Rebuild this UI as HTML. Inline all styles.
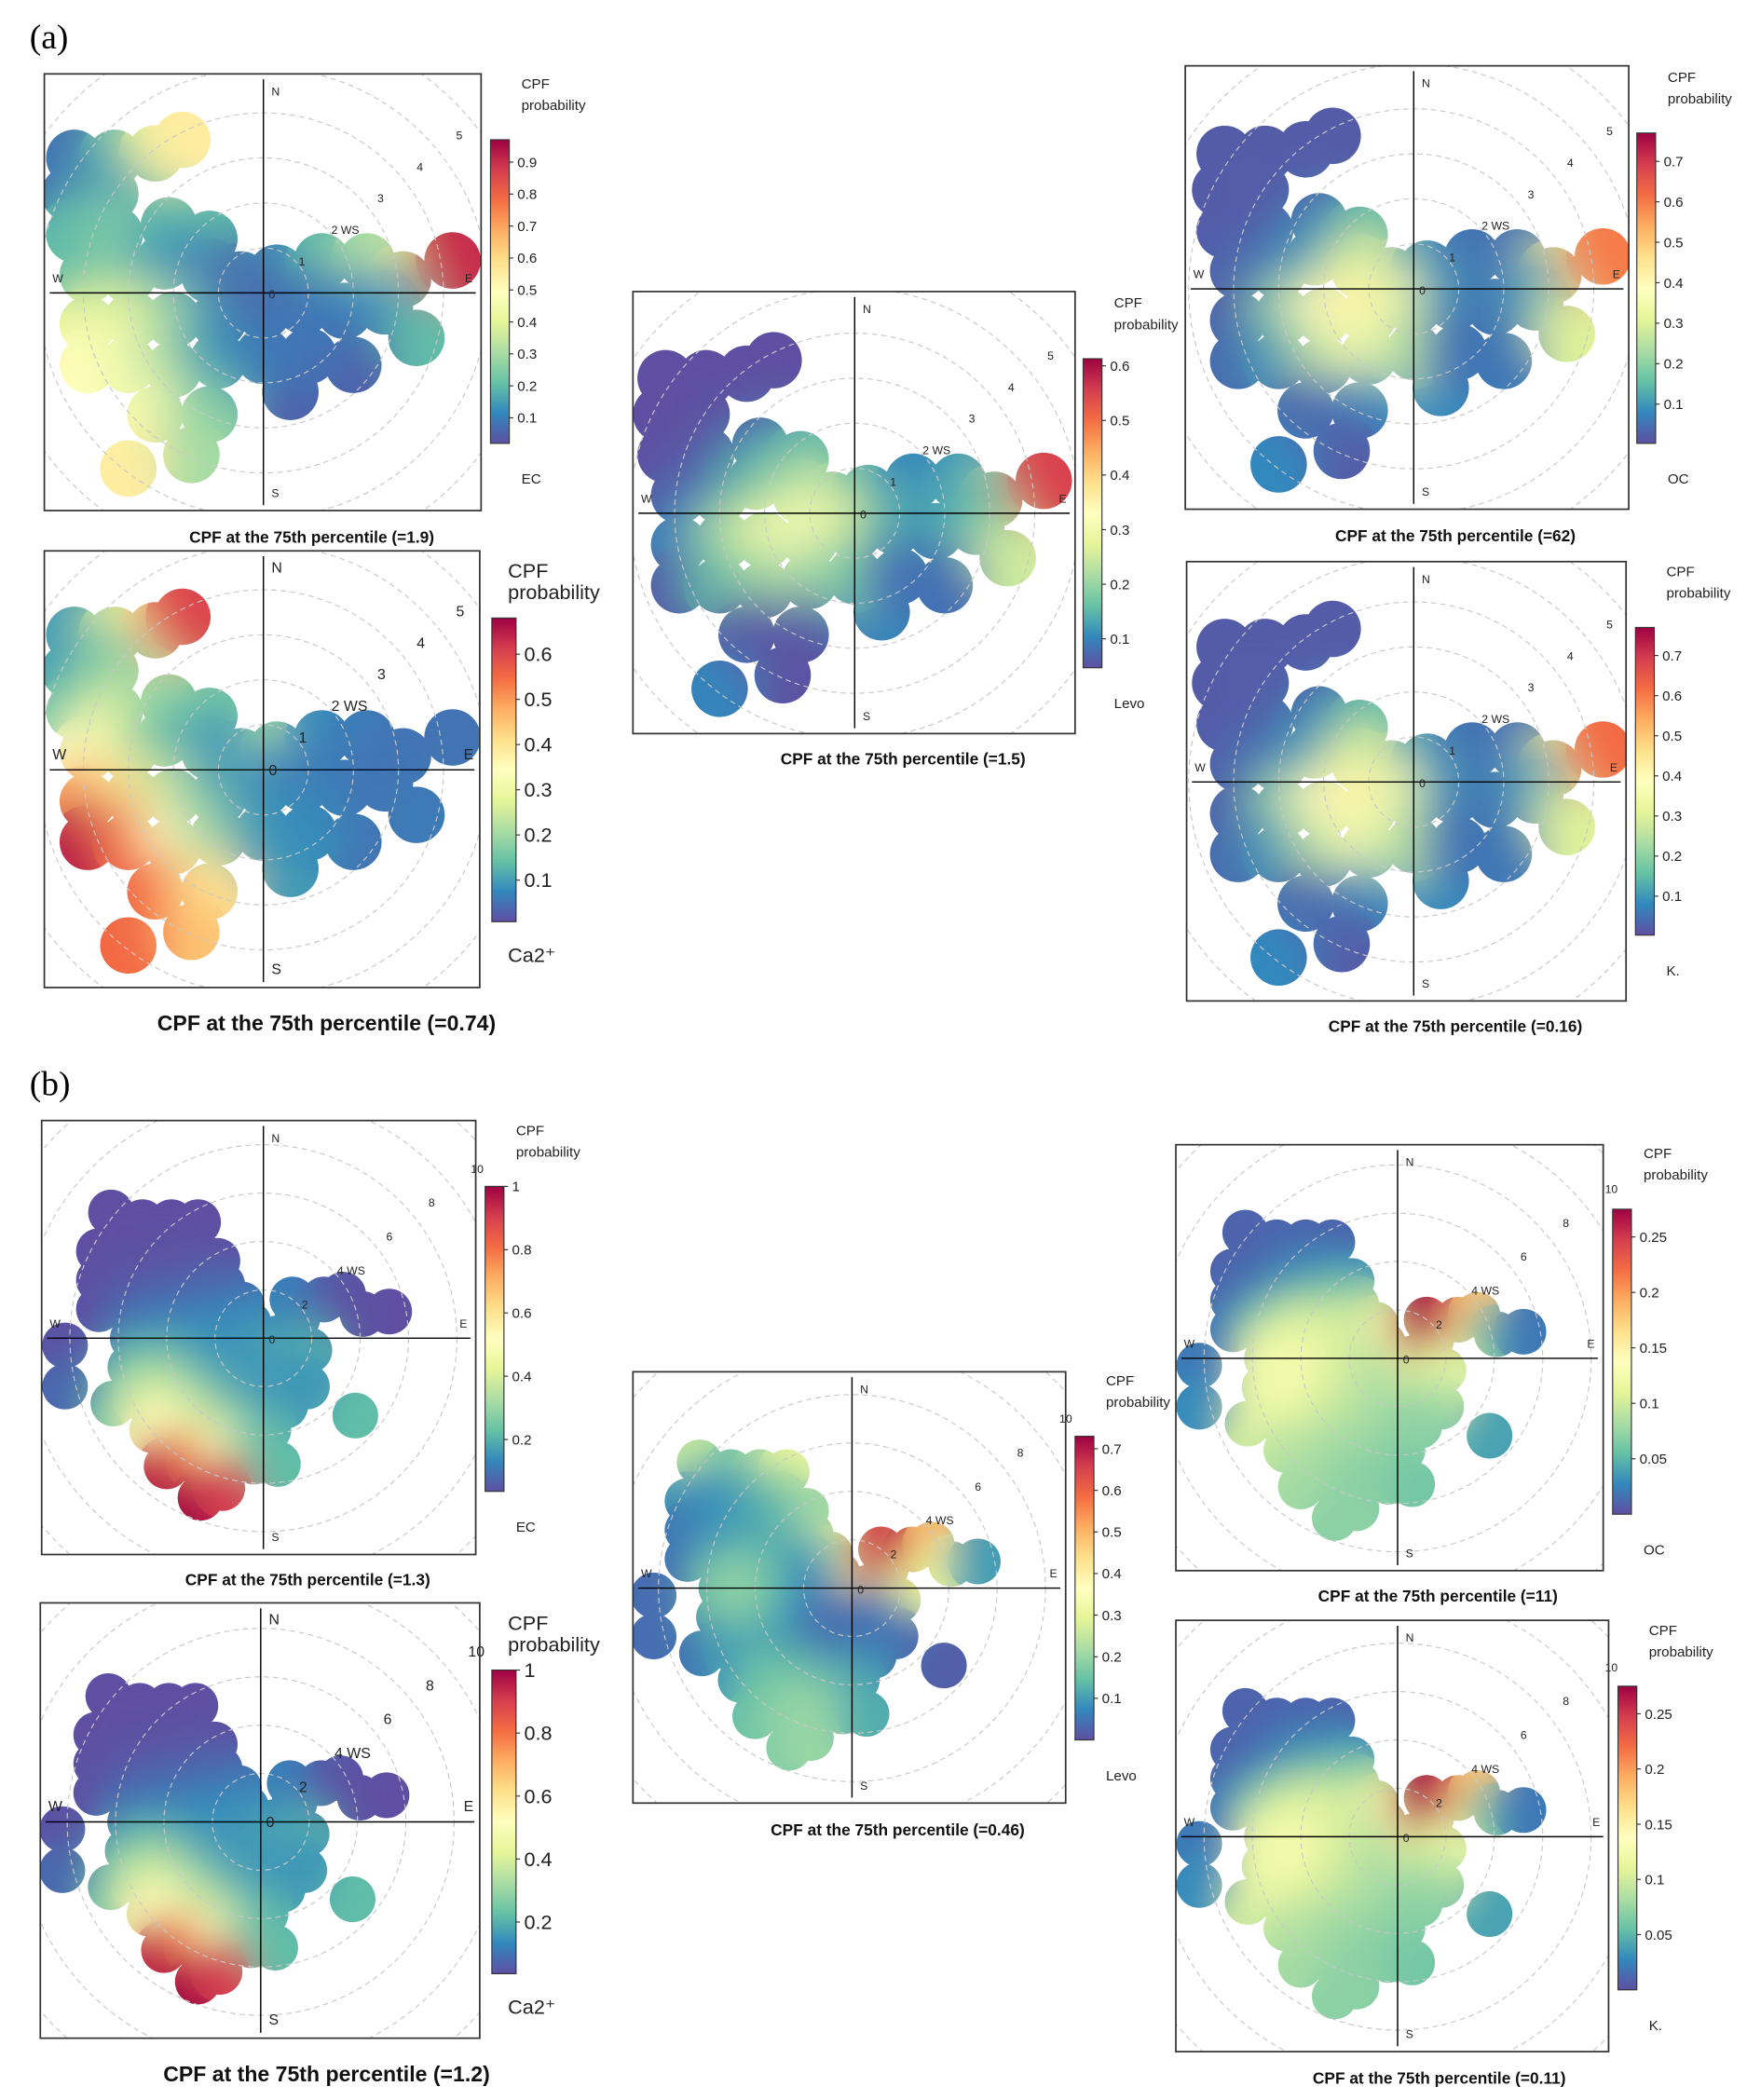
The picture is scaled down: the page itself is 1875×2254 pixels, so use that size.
<!DOCTYPE html>
<html><head><meta charset="utf-8"><style>
html,body{margin:0;padding:0;background:#fff}
svg{display:block}
text{font-family:"Liberation Sans",Arial,sans-serif}
</style></head><body>
<svg id="fig" xmlns="http://www.w3.org/2000/svg" width="1875" height="2254" viewBox="0 0 1300 1563" preserveAspectRatio="none">
<rect width="1300" height="1563" fill="#fff"/>
<text x="22" y="36" font-size="26" style="font-family:'Liberation Serif',serif">(a)</text>
<text x="22" y="815" font-size="26" style="font-family:'Liberation Serif',serif">(b)</text>
<defs id="defs"></defs>
</svg>
<script>
// ---------- data: group A (wind components u east / v north, ws units) ----------
const ptsAu = [-4.2,-3.3,-2.4,-1.8,-4.3,-3.4,-4.2,-3.3,-3.9,-3.0, -2.1,-1.2,-2.2,-1.2,-0.5,0.3,1.3,2.3,3.1,4.2, -3.9,-2.9,-2.0,-1.0,0,0.9,1.8,2.7,3.4,2.0,0.6, -3.9,-3.0,-2.0,-1.0,0,1.0, -2.4,-1.2,-1.6,-3.0];
const ptsAv = [3.0,3.0,3.1,3.4,2.2,2.2,1.3,1.3,0.4,0.4, 1.5,1.2,0.7,0.4,0.3,0.45,0.7,0.7,0.3,0.72, -0.7,-0.6,-0.6,-0.6,-0.4,-0.3,-0.4,-0.3,-1.0,-1.6,-2.2, -1.6,-1.6,-1.7,-1.5,-1.4,-1.4, -2.7,-2.7,-3.6,-3.9];
const valsEC_a   = [.08,.2,.4,.55,.08,.15,.2,.25,.2,.25, .2,.2,.15,.1,.05,.1,.2,.3,.4,.9, .4,.4,.3,.15,.05,.08,.1,.12,.2,.05,.05, .5,.45,.3,.15,.1,.08, .45,.25,.3,.55];
const valsCa_a   = [.1,.25,.4,.6,.1,.15,.15,.25,.35,.3, .2,.15,.15,.1,.08,.2,.08,.06,.05,.05, .5,.4,.25,.12,.08,.06,.06,.05,.06,.05,.1, .65,.55,.35,.2,.1,.08, .55,.4,.45,.55];
const valsLevo_a = [.04,.04,.04,.04,.04,.04,.04,.05,.06,.08, .08,.15,.15,.22,.25,.15,.1,.12,.2,.55, .1,.2,.28,.32,.28,.15,.12,.15,.25,.08,.1, .06,.15,.2,.22,.18,.08, .05,.06,.05,.1];
const valsOC_a   = [.02,.02,.02,.02,.02,.02,.02,.02,.03,.05, .05,.15,.1,.3,.3,.1,.05,.05,.3,.6, .03,.2,.4,.42,.35,.1,.05,.1,.3,.06,.08, .04,.1,.25,.35,.25,.05, .03,.08,.02,.08];
const valsK_a    = [.02,.02,.02,.02,.02,.02,.02,.02,.03,.05, .05,.15,.1,.3,.3,.1,.05,.05,.3,.62, .03,.2,.4,.42,.35,.1,.05,.1,.3,.06,.08, .04,.1,.25,.35,.25,.05, .03,.08,.02,.08];
// ---------- data: group B ----------
const ptsBu = [-6.3,-5.0,-3.8,-2.7,-6.8,-5.5,-4.2,-3.0,-1.9,-6.8,-5.5,-4.2,-3.0,-1.7,-0.9,-6.8,-5.5,-4.2,-3.0,-1.8,-0.6,-5.4,-4.2,-3.0,-1.8,-0.6,0.6,1.4,1.2,2.5,3.3,4.1,5.2,1.9,-5.5,-4.2,-3.0,-1.8,-0.6,0.8,1.8,-6.2,-5.0,-3.8,-2.6,-1.4,-0.2,0.9,-4.6,-3.4,-2.2,-1.0,0.2,-4.0,-2.8,-1.6,-0.4,0.6,-2.6,-1.7,3.8,-8.2,-8.2];
const ptsBv = [5.2,4.8,4.8,4.8,3.6,3.6,3.6,3.6,3.2,2.4,2.4,2.4,2.4,2.2,1.4,1.2,1.2,1.2,1.2,1.0,0.6,0,0,0,0,-0.4,0,0.8,1.6,1.6,1.8,1.0,1.1,-0.5,-1.2,-1.2,-1.2,-1.2,-1.4,-1.2,-2.0,-2.7,-2.5,-2.5,-2.5,-2.5,-2.5,-2.8,-3.8,-3.8,-3.8,-3.8,-3.8,-5.3,-5.1,-5.0,-5.1,-5.2,-6.6,-6.2,-3.2,-0.3,-2.0];
const valsEC_b   = [.03,.03,.03,.03,.03,.03,.03,.03,.03,.03,.04,.04,.05,.06,.08,.04,.06,.08,.08,.1,.12,.1,.12,.12,.14,.15,.18,.15,.12,.1,.05,.04,.03,.2,.2,.25,.2,.15,.15,.18,.15,.25,.35,.4,.3,.2,.15,.15,.55,.5,.4,.3,.2,.95,.8,.5,.3,.22,1,.9,.22,.04,.08];
const valsCa_b   = [.03,.03,.03,.03,.03,.03,.03,.03,.03,.03,.04,.04,.05,.06,.08,.04,.06,.08,.08,.1,.12,.1,.12,.12,.14,.15,.18,.15,.12,.1,.05,.04,.03,.2,.2,.25,.2,.15,.15,.18,.15,.25,.35,.4,.3,.2,.15,.15,.55,.5,.4,.3,.2,.95,.8,.5,.3,.22,1,.9,.22,.04,.08];
const valsLevo_b = [.25,.15,.2,.3,.1,.08,.1,.15,.2,.05,.08,.1,.12,.2,.3,.05,.1,.12,.12,.1,.2,.18,.2,.15,.08,.04,.3,.6,.65,.72,.5,.3,.1,.3,.15,.2,.15,.08,.03,.05,.04,.05,.1,.12,.1,.05,.03,.05,.1,.15,.15,.12,.1,.15,.18,.2,.18,.12,.18,.2,.02,.04,.04];
const valsOC_b   = [.01,.01,.01,.01,.01,.01,.02,.02,.03,.01,.02,.04,.05,.06,.1,.02,.06,.1,.1,.1,.15,.12,.12,.12,.1,.08,.15,.25,.27,.26,.18,.06,.02,.12,.12,.13,.12,.1,.08,.1,.09,.1,.12,.12,.1,.09,.08,.07,.09,.09,.08,.08,.07,.08,.08,.07,.07,.06,.07,.07,.04,.02,.03];
const valsK_b    = [.01,.01,.01,.01,.01,.01,.02,.02,.03,.01,.02,.04,.05,.06,.1,.02,.06,.1,.1,.1,.15,.12,.12,.12,.1,.08,.15,.25,.27,.26,.18,.06,.02,.12,.12,.13,.12,.1,.08,.1,.09,.1,.12,.12,.1,.09,.08,.07,.09,.09,.08,.08,.07,.08,.08,.07,.07,.06,.07,.07,.04,.02,.03];
// ---------- colorbar ticks & rings ----------
const ticksEC_a = [0.1,0.2,0.3,0.4,0.5,0.6,0.7,0.8,0.9];
const ticksCa_a = [0.1,0.2,0.3,0.4,0.5,0.6];
const ticksLevo_a = [0.1,0.2,0.3,0.4,0.5,0.6];
const ticksOC_a = [0.1,0.2,0.3,0.4,0.5,0.6,0.7];
const ticksB1 = [0.2,0.4,0.6,0.8,1];
const ticksLevo_b = [0.1,0.2,0.3,0.4,0.5,0.6,0.7];
const ticksOC_b = [0.05,0.1,0.15,0.2,0.25];
const ringsA = [1,2,3,4,5,6];
const ringsB = [2,4,6,8,10,12];

const panels = [
 {id:'a-ec',x:33,y:55,w:325,h:325,cx:196,cy:218,unit:33.5,br:21,rings:ringsA,pu:ptsAu,pv:ptsAv,vals:valsEC_a,ticks:ticksEC_a,cbx:365,cby:104,cbh:226,mn:0.02,mx:0.97,title:'CPF at the 75th percentile (=1.9)',tx:232,ty:404,sp:'EC',big:false},
 {id:'a-ca',x:33,y:410,w:324,h:325,cx:196,cy:573,unit:33.5,br:21,rings:ringsA,pu:ptsAu,pv:ptsAv,vals:valsCa_a,ticks:ticksCa_a,cbx:366,cby:460,cbh:226,mn:0.008,mx:0.68,title:'CPF at the 75th percentile (=0.74)',tx:243,ty:767,sp:'Ca2\u207A',big:true},
 {id:'a-levo',x:471,y:217,w:329,h:329,cx:636,cy:382,unit:33.5,br:21,rings:ringsA,pu:ptsAu,pv:ptsAv,vals:valsLevo_a,ticks:ticksLevo_a,cbx:806,cby:267,cbh:230,mn:0.047,mx:0.613,title:'CPF at the 75th percentile (=1.5)',tx:672,ty:569,sp:'Levo',big:false},
 {id:'a-oc',x:882,y:49,w:330,h:330,cx:1052,cy:215,unit:33.5,br:21,rings:ringsA,pu:ptsAu,pv:ptsAv,vals:valsOC_a,ticks:ticksOC_a,cbx:1218,cby:99,cbh:231,mn:0.003,mx:0.77,title:'CPF at the 75th percentile (=62)',tx:1083,ty:403,sp:'OC',big:false},
 {id:'a-k',x:883,y:418,w:327,h:327,cx:1052,cy:582,unit:33.5,br:21,rings:ringsA,pu:ptsAu,pv:ptsAv,vals:valsK_a,ticks:ticksOC_a,cbx:1217,cby:467,cbh:229,mn:0.003,mx:0.77,title:'CPF at the 75th percentile (=0.16)',tx:1083,ty:768,sp:'K.',big:false},
 {id:'b-ec',x:31,y:834,w:323,h:323,cx:196,cy:996,unit:18,br:17,rings:ringsB,pu:ptsBu,pv:ptsBv,vals:valsEC_b,ticks:ticksB1,cbx:361,cby:883,cbh:227,mn:0.036,mx:1.0,title:'CPF at the 75th percentile (=1.3)',tx:229,ty:1180,sp:'EC',big:false},
 {id:'b-ca',x:30,y:1193,w:327,h:324,cx:194,cy:1356,unit:18,br:17,rings:ringsB,pu:ptsBu,pv:ptsBv,vals:valsCa_b,ticks:ticksB1,cbx:366,cby:1243,cbh:226,mn:0.036,mx:1.0,title:'CPF at the 75th percentile (=1.2)',tx:243,ty:1549,sp:'Ca2\u207A',big:true},
 {id:'b-levo',x:471,y:1021,w:322,h:321,cx:634,cy:1182,unit:18,br:17,rings:ringsB,pu:ptsBu,pv:ptsBv,vals:valsLevo_b,ticks:ticksLevo_b,cbx:800,cby:1069,cbh:226,mn:0.0,mx:0.73,title:'CPF at the 75th percentile (=0.46)',tx:668,ty:1366,sp:'Levo',big:false},
 {id:'b-oc',x:875,y:852,w:318,h:317,cx:1040,cy:1011,unit:18,br:17,rings:ringsB,pu:ptsBu,pv:ptsBv,vals:valsOC_b,ticks:ticksOC_b,cbx:1200,cby:900,cbh:227,mn:0.0,mx:0.275,title:'CPF at the 75th percentile (=11)',tx:1070,ty:1192,sp:'OC',big:false},
 {id:'b-k',x:875,y:1206,w:322,h:321,cx:1040,cy:1367,unit:18,br:17,rings:ringsB,pu:ptsBu,pv:ptsBv,vals:valsK_b,ticks:ticksOC_b,cbx:1204,cby:1255,cbh:226,mn:0.0,mx:0.275,title:'CPF at the 75th percentile (=0.11)',tx:1071,ty:1551,sp:'K.',big:false}
];

const stops = ['#5e4fa2','#3288bd','#66c2a5','#abdda4','#e6f598','#ffffbf','#fee08b','#fdae61','#f46d43','#d53e4f','#9e0142'];
function hex(h){return [parseInt(h.slice(1,3),16),parseInt(h.slice(3,5),16),parseInt(h.slice(5,7),16)];}
function colorAt(t){
  t=Math.max(0,Math.min(1,t))*(stops.length-1);
  const i=Math.min(stops.length-2,Math.floor(t)),f=t-i;
  const a=hex(stops[i]),b=hex(stops[i+1]);
  return 'rgb('+a.map((v,k)=>Math.round(v+(b[k]-v)*f)).join(',')+')';
}
const NS='http://www.w3.org/2000/svg';
const svg=document.getElementById('fig');
const defs=document.getElementById('defs');
function mk(tag,attrs,parent){const e=document.createElementNS(NS,tag);for(const k in attrs)e.setAttribute(k,attrs[k]);(parent||svg).appendChild(e);return e;}

const lg=mk('linearGradient',{id:'spec',x1:0,y1:1,x2:0,y2:0},defs);
stops.forEach((c,i)=>mk('stop',{offset:(i/(stops.length-1)),'stop-color':c},lg));

panels.forEach(p=>{
  const g=mk('g',{});
  
  
  const xs=u=>p.cx+u*p.unit, ys=v=>p.cy-v*p.unit;
  const norm=v=>(v-p.mn)/(p.mx-p.mn);
  const cp=mk('clipPath',{id:'clip-'+p.id},defs);
  mk('rect',{x:p.x,y:p.y,width:p.w,height:p.h},cp);
  const m=mk('mask',{id:'mask-'+p.id,maskUnits:'userSpaceOnUse',x:p.x,y:p.y,width:p.w,height:p.h},defs);
  mk('rect',{x:p.x,y:p.y,width:p.w,height:p.h,fill:'#000'},m);
  p.pu.forEach((u,i)=>mk('circle',{cx:xs(u),cy:ys(p.pv[i]),r:p.br,fill:'#fff'},m));
  const f=mk('filter',{id:'blur-'+p.id,x:'-50%',y:'-50%',width:'200%',height:'200%'},defs);
  mk('feGaussianBlur',{stdDeviation:p.br*0.8},f);
  const cg=mk('g',{'clip-path':'url(#clip-'+p.id+')'},g);
  const mg=mk('g',{mask:'url(#mask-'+p.id+')'},cg);
  p.pu.forEach((u,i)=>mk('circle',{cx:xs(u),cy:ys(p.pv[i]),r:p.br*1.3,fill:colorAt(norm(p.vals[i]))},mg));
  const bg=mk('g',{filter:'url(#blur-'+p.id+')'},mg);
  p.pu.forEach((u,i)=>{
    const c=mk('circle',{cx:xs(u),cy:ys(p.pv[i]),r:p.br*1.4,fill:colorAt(norm(p.vals[i]))},bg);
    
    
  });
  p.rings.forEach(r=>{
    const c=mk('circle',{cx:p.cx,cy:p.cy,r:r*p.unit,fill:'none',stroke:'#c8c8c8','stroke-width':0.8,'stroke-dasharray':'4 3'},cg);
    
    
  });
  mk('line',{x1:p.x+4,y1:p.cy,x2:p.x+p.w-4,y2:p.cy,stroke:'#000','stroke-width':1},g);
  mk('line',{x1:p.cx,y1:p.y+4,x2:p.cx,y2:p.y+p.h-4,stroke:'#000','stroke-width':1},g);
  const fs=p.big?11:8.5;
  const lab=(t,x,y,a,s)=>{const e=mk('text',{x:x,y:y,'font-size':s||fs,'text-anchor':a||'start',fill:'#222'},g);e.textContent=t;return e;};
  lab('N',p.cx+6,p.y+16);
  lab('S',p.cx+6,p.y+p.h-10);
  lab('W',p.x+6,p.cy-8);
  lab('E',p.x+p.w-12,p.cy-8);
  lab('0',p.cx+4,p.cy+4);
  p.rings.slice(0,5).forEach((r,i)=>{
    const rr=r*p.unit*1.12, ang=Math.PI*0.215;
    lab(i===1?(r+' WS'):String(r),p.cx+rr*Math.cos(ang)-(i===1?8:3),p.cy-rr*Math.sin(ang)+3,'start');
  });
  mk('rect',{x:p.x,y:p.y,width:p.w,height:p.h,fill:'none',stroke:'#333','stroke-width':1.2},g);
  const cbw=p.big?18:14;
  const cb=mk('rect',{x:p.cbx,y:p.cby,width:cbw,height:p.cbh,fill:'url(#spec)',stroke:'#333','stroke-width':0.8},g);
  
  
  const tfs=p.big?15:10.5;
  p.ticks.forEach(t=>{
    const y=p.cby+p.cbh*(1-norm(t));
    mk('line',{x1:p.cbx+cbw,y1:y,x2:p.cbx+cbw+3,y2:y,stroke:'#333','stroke-width':0.8},g);
    const e=lab(String(t),p.cbx+cbw+6,y+tfs*0.35,'start',tfs);
    
    
  });
  const hfs=p.big?15:10.5;
  lab('CPF',p.cbx+(p.big?12:23),p.cby-(p.big?30:38),'start',hfs);
  lab('probability',p.cbx+(p.big?12:23),p.cby-(p.big?14:22),'start',hfs);
  lab(p.sp,p.cbx+(p.big?12:23),p.cby+p.cbh+30,'start',hfs);
  const t=mk('text',{x:p.tx,y:p.ty,'font-size':p.big?16:12,'font-weight':'bold','text-anchor':'middle',fill:'#111'},g);
  t.textContent=p.title;
  
  
});
</script>
</body></html>
